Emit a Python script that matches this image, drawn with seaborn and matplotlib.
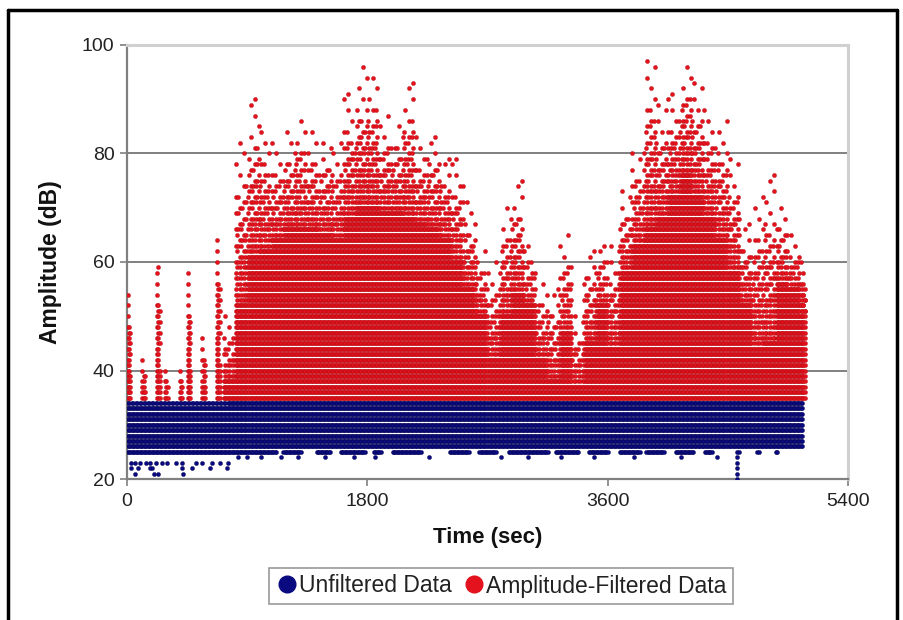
import numpy as np
import pandas as pd
import matplotlib
matplotlib.use("Agg")
import matplotlib.pyplot as plt
from matplotlib.lines import Line2D
import seaborn as sns

# ---------------- data ----------------
# Red (amplitude-filtered) data, summarised per 90-s bin:
# top of the solid band (dB, 34 = no solid band) and the highest point (dB)
bin_start = [i * 90 for i in range(57)]
red_dense_top = [34, 34, 34, 34, 34, 34, 34, 34, 38, 52,
                 61, 62, 64, 66, 66, 66, 65, 64, 68, 70,
                 70, 69, 69, 68, 67, 66, 64, 60, 55, 50,
                 42, 50, 54, 52, 42, 38, 47, 37, 45, 52,
                 44, 58, 63, 66, 68, 72, 76, 72, 68, 64,
                 58, 52, 44, 45, 56, 55, 50]
red_peak = [54, 42, 59, 40, 40, 58, 46, 64, 50, 82,
            90, 84, 82, 84, 86, 84, 82, 82, 91, 96,
            94, 87, 85, 93, 83, 83, 79, 79, 71, 62,
            60, 70, 75, 63, 56, 55, 65, 50, 62, 63,
            63, 73, 80, 97, 89, 91, 96, 93, 88, 86,
            79, 67, 72, 76, 70, 65, 60]
red_end = 5075

# Blue (unfiltered) data: solid band 26-34 dB up to blue_end
blue_low, blue_high = 26, 34
blue_end = 5055
blue_row25_solid_end = 1120
# row-25 stretches after that (start, end in s)
blue25_seg_start = [1170, 1420, 1600, 1850, 1990, 2420, 2640, 2860, 3210, 3460, 3690, 3890, 4110, 4330, 4570, 4720, 4860]
blue25_seg_end = [1300, 1520, 1780, 1900, 2200, 2560, 2760, 3150, 3380, 3600, 3840, 4020, 4240, 4380, 4580, 4730, 4870]
# isolated low points (s, dB)
blue_pt_t = [30, 60, 95, 140, 175, 215, 260, 300, 370, 410, 520, 560, 640, 700, 760, 830, 900,
             1000, 1150, 1280, 1480, 1700, 1860, 2260, 2800, 3000, 3250, 3500, 3800, 4150, 4420,
             30, 80, 170, 190, 410, 490, 625, 750,
             60, 200, 230, 420,
             4570, 4570, 4570, 4570, 4570]
blue_pt_db = [23, 23, 23, 23, 23, 23, 23, 23, 23, 23, 23, 23, 23, 23, 23, 24, 24,
              24, 24, 24, 24, 24, 24, 24, 24, 24, 24, 24, 24, 24, 24,
              22, 22, 22, 22, 22, 22, 22, 22,
              21, 21, 21, 21,
              24, 23, 22, 21, 20]

# ---------------- build point table ----------------
dt = 10
rows = []
for i, t0 in enumerate(bin_start):
    steps = [t0 + 5 + dt * k for k in range(9) if t0 + 5 + dt * k <= red_end]
    top, peak = red_dense_top[i], red_peak[i]
    for L in range(35, top + 1):
        for t in steps:
            rows.append((t, L, "Amplitude-Filtered Data"))
    span = max(peak - top, 1)
    for L in range(top + 1, peak + 1):
        frac = (peak - L) / span
        if top == 34:
            # narrow isolated columns at the start of the record
            if L != peak and frac < 0.3 and L % 2 == 1:
                continue
            n = 1 + int(round(2 * frac))
            off = (i * 2) % 5
            for k in range(n):
                j = (off + k + (L % 2 if frac < 0.6 else 0)) % len(steps)
                rows.append((steps[j], L, "Amplitude-Filtered Data"))
            continue
        if L != peak and frac < 0.35 and (L - top) % 2 == 1:
            continue
        n = int(round(1 + 4 * frac ** 1.5))
        for k in range(n):
            j = (i * 5 + L * 3 + k * 2) % len(steps)
            rows.append((steps[j], L, "Amplitude-Filtered Data"))

for t in range(5, blue_end + 1, dt):
    for L in range(blue_low, blue_high + 1):
        if L == 34 and t < 760 and (t // dt) % 3 == 2:
            continue
        rows.append((t, L, "Unfiltered Data"))
    if t <= blue_row25_solid_end:
        rows.append((t, 25, "Unfiltered Data"))
for a, b in zip(blue25_seg_start, blue25_seg_end):
    for t in range(a, b + 1, dt):
        rows.append((t, 25, "Unfiltered Data"))
for t, L in zip(blue_pt_t, blue_pt_db):
    rows.append((t, L, "Unfiltered Data"))

df = pd.DataFrame(rows, columns=["t", "db", "series"])

# ---------------- plot ----------------
sns.set_theme(style="white")
plt.rcParams["font.family"] = ["Liberation Sans", "DejaVu Sans"]

fig = plt.figure(figsize=(9.04, 6.2), dpi=100)
ax = fig.add_axes([127 / 904, 1 - 479 / 620, (848 - 127) / 904, (479 - 45) / 620])

blue = "#0a0a80"
red = "#e3121c"
sns.scatterplot(data=df[df.series == "Unfiltered Data"], x="t", y="db", color=blue,
                s=9, edgecolor="#060650", linewidth=0.25, legend=False, ax=ax, zorder=3)
sns.scatterplot(data=df[df.series == "Amplitude-Filtered Data"], x="t", y="db", color=red,
                s=9, edgecolor="#b00812", linewidth=0.25, legend=False, ax=ax, zorder=3)

ax.set_xlim(0, 5400)
ax.set_ylim(20, 100)
ax.set_xticks([0, 1800, 3600, 5400])
ax.set_yticks([20, 40, 60, 80, 100])
ax.set_axisbelow(True)
for yv in [40, 60, 80]:
    ax.axhline(yv, color="#808080", lw=1.4, zorder=1)

for s in ["left", "bottom"]:
    ax.spines[s].set_color("#808080")
    ax.spines[s].set_linewidth(1.6)
for s in ["top", "right"]:
    ax.spines[s].set_color("#d0d0d0")
    ax.spines[s].set_linewidth(2.2)

ax.tick_params(axis="both", which="major", direction="out", length=5, width=1.2,
               color="#808080", labelsize=14, labelcolor="#222222")
ax.tick_params(axis="y", pad=4, left=True)
ax.tick_params(axis="x", pad=5, bottom=True)

ax.set_xlabel("Time (sec)", fontsize=16, fontweight="bold", labelpad=12, color="#111111")
ax.set_ylabel("Amplitude (dB)", fontsize=16.5, fontweight="bold", labelpad=14, color="#111111")

handles = [Line2D([], [], ls="", marker="o", ms=12, color=blue, label="Unfiltered Data"),
           Line2D([], [], ls="", marker="o", ms=12, color=red, label="Amplitude-Filtered Data")]
leg = fig.legend(handles=handles, loc="center", bbox_to_anchor=(501 / 904, 1 - 586 / 620),
                 ncol=2, frameon=True, fancybox=False, fontsize=16.5, handletextpad=0.0,
                 columnspacing=0.5, borderpad=0.3, handlelength=1.0)
leg.get_frame().set_edgecolor("#808080")
leg.get_frame().set_linewidth(1.2)
for txt in leg.get_texts():
    txt.set_color("#222222")

# outer black frame
for xs, ys in [([8 / 904, 8 / 904], [0, 1 - 10 / 620]),
               ([8 / 904, 897 / 904], [1 - 10 / 620, 1 - 10 / 620]),
               ([897 / 904, 897 / 904], [0, 1 - 10 / 620])]:
    fig.add_artist(Line2D(xs, ys, color="black", lw=2.5, transform=fig.transFigure))

fig.savefig("out.png", dpi=100, facecolor="white")
